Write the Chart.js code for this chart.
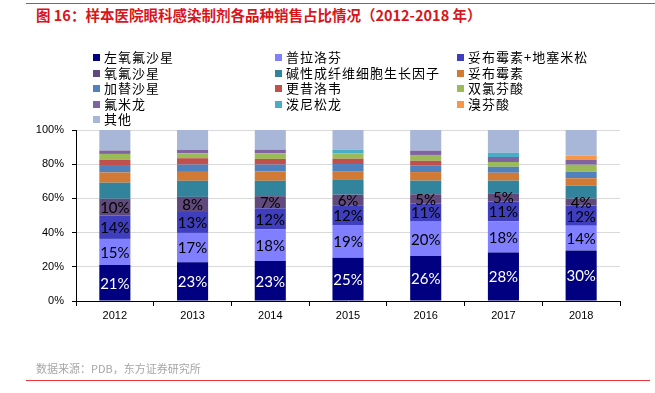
<!DOCTYPE html>
<html>
<head>
<meta charset="utf-8">
<script src="https://cdn.jsdelivr.net/npm/chart.js@4.4.1/dist/chart.umd.min.js"></script>
<style>
    html, body { margin: 0; padding: 0; background: #fff; }
    #page { position: relative; width: 655px; height: 393px; overflow: hidden; font-family: "Noto Sans CJK SC", sans-serif; }
    .rule { position: absolute; height: 1px; background: #e8383d; }
    #title { position: absolute; left: 36px; top: 5px; font-size: 14.5px; font-weight: bold; color: #d9141b; white-space: nowrap; line-height: 20px; }
    #source { position: absolute; left: 36px; top: 360px; font-size: 11px; color: #a6a6a6; white-space: nowrap; line-height: 16px; }
    #chartBox { position: absolute; left: 0; top: 0; width: 655px; height: 393px; }
    .legend-item { position: absolute; font-size: 13px; letter-spacing: 1px; color: #000; white-space: nowrap; line-height: 16px; }
    .legend-item i { display: inline-block; width: 7px; height: 7px; margin-right: 4px; vertical-align: 1px; }
</style>
</head>
<body>
<div id="page">
    <div class="rule" style="left:26px; top:3px; width:629px;"></div>
    <div id="title">图 16：样本医院眼科感染制剂各品种销售占比情况（2012-2018 年）</div>
    <div id="chartBox"><canvas id="shareChart" width="655" height="393"></canvas></div>
    <div id="legend"></div>
    <div id="source">数据来源：PDB，东方证券研究所</div>
    <div class="rule" style="left:26px; top:380px; width:624px;"></div>
</div>
<script>
    const years = ['2012', '2013', '2014', '2015', '2016', '2017', '2018'];
    const yTicks = [0, 20, 40, 60, 80, 100];

    // share of sales, %
    const levofloxacin = [21.0, 22.6, 23.4, 25.3, 26.3, 28.3, 29.6];
    const pranoprofen = [15.3, 17.2, 18.4, 19.1, 20.1, 18.4, 14.4];
    const tobraDexa = [13.6, 12.8, 12.4, 11.6, 10.7, 11.4, 11.8];
    const ofloxacin = [9.9, 8.3, 7.1, 6.2, 5.3, 4.9, 4.1];
    const bfgf = [9.4, 9.4, 9.0, 8.6, 8.0, 7.4, 7.5];
    const tobramycin = [6.0, 5.2, 5.4, 4.8, 5.0, 4.6, 4.4];
    const gatifloxacin = [3.8, 4.3, 4.1, 4.5, 4.0, 3.5, 3.8];
    const ganciclovir = [3.6, 3.7, 3.3, 3.1, 2.6, 0, 0];
    const diclofenac = [3.4, 2.8, 3.2, 3.2, 3.4, 2.8, 4.1];
    const fluorometholone = [2.0, 2.1, 2.2, 0, 2.5, 2.9, 2.9];
    const prednisolone = [0, 0, 0, 2.1, 0, 2.5, 0];
    const bromfenac = [0, 0, 0, 0, 0, 0, 2.4];
    const others = [12.0, 11.6, 11.5, 11.5, 12.1, 13.3, 15.0];

    const seriesNames = ['左氧氟沙星', '普拉洛芬', '妥布霉素+地塞米松', '氧氟沙星', '碱性成纤维细胞生长因子', '妥布霉素',
        '加替沙星', '更昔洛韦', '双氯芬酸', '氟米龙', '泼尼松龙', '溴芬酸', '其他'];
    const seriesValues = [levofloxacin, pranoprofen, tobraDexa, ofloxacin, bfgf, tobramycin,
        gatifloxacin, ganciclovir, diclofenac, fluorometholone, prednisolone, bromfenac, others];
    const seriesColors = ['#000080', '#7f7fff', '#3f3fbd', '#604a7b', '#31849b', '#d17a36',
        '#4f81bd', '#c0504d', '#9bbb59', '#8064a2', '#4bacc6', '#f79646', '#a8b7d7'];
    const labelledSeries = [0, 1, 2, 3];

    const segmentLabels = {
        id: 'segmentLabels',
        afterDatasetsDraw(chart) {
            const ctx = chart.ctx;
            ctx.save();
            ctx.font = '15px Lato';
            ctx.textAlign = 'center';
            ctx.textBaseline = 'middle';
            labelledSeries.forEach((i) => {
                chart.getDatasetMeta(i).data.forEach((bar, j) => {
                    const value = chart.data.datasets[i].data[j];
                    const p = bar.getCenterPoint();
                    ctx.fillStyle = i === 0 ? '#ffffff' : '#000000';
                    ctx.fillText(Math.round(value) + '%', p.x, p.y + 1);
                });
            });
            ctx.restore();
        },
    };

    const chart = new Chart(document.getElementById('shareChart'), {
        type: 'bar',
        data: {
            labels: years,
            datasets: seriesNames.map((name, i) => ({
                label: name,
                data: seriesValues[i],
                backgroundColor: seriesColors[i],
                borderWidth: 0,
                barPercentage: 0.4,
                categoryPercentage: 1.0,
            })),
        },
        options: {
            responsive: false,
            animation: false,
            layout: {
                padding: { top: 130, left: 20, right: 35, bottom: 62 },
            },
            plugins: {
                legend: { display: false },
                tooltip: { enabled: false },
            },
            scales: {
                x: {
                    stacked: true,
                    afterFit: (scale) => { scale.height = 30; },
                    grid: {
                        drawOnChartArea: false,
                        drawTicks: true,
                        tickLength: 5,
                        color: '#000',
                        offset: true,
                    },
                    border: { display: true, color: '#000', width: 1 },
                    ticks: {
                        color: '#000',
                        padding: 3,
                        font: { family: 'Liberation Sans', size: 11 },
                    },
                },
                y: {
                    stacked: true,
                    min: 0,
                    max: 100,
                    afterFit: (scale) => { scale.width = 56; },
                    afterBuildTicks: (scale) => { scale.ticks = yTicks.map((v) => ({ value: v })); },
                    grid: {
                        color: '#d9d9d9',
                        tickColor: '#000',
                        tickLength: 4,
                    },
                    border: { display: true, color: '#000', width: 1 },
                    ticks: {
                        color: '#000',
                        padding: 8,
                        font: { family: 'Liberation Sans', size: 11 },
                        callback: (value) => value + '%',
                    },
                },
            },
        },
        plugins: [segmentLabels],
    });

    // three-column legend as in the source figure
    const legendBox = document.getElementById('legend');
    chart.data.datasets.forEach((ds, i) => {
        const item = document.createElement('div');
        item.className = 'legend-item';
        item.style.left = (93 + (i % 3) * 182) + 'px';
        item.style.top = (49 + Math.floor(i / 3) * 15.5) + 'px';
        item.innerHTML = '<i style="background:' + ds.backgroundColor + '"></i>' + ds.label;
        legendBox.appendChild(item);
    });
</script>
</body>
</html>
